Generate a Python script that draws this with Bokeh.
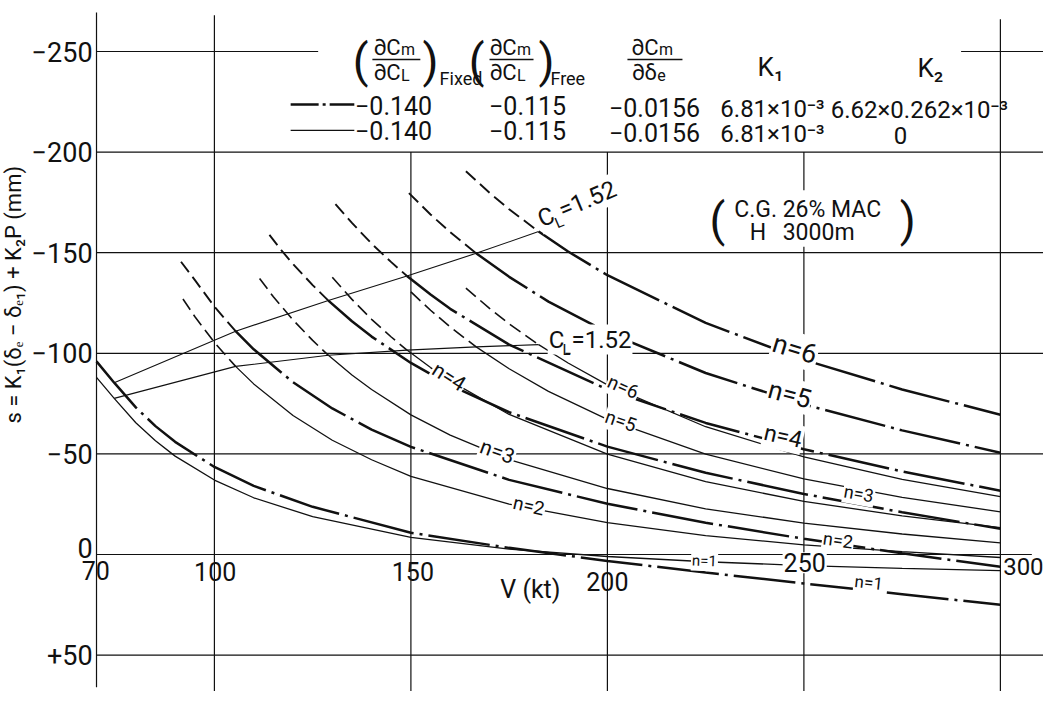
from bokeh.plotting import figure
from bokeh.models import Range1d
from bokeh.core.properties import value
from bokeh.embed import file_html
from bokeh.resources import INLINE

# ------------------------------------------------------------------ data
V_TICKS = [70, 100, 150, 200, 250, 300]
V_TICK_LABELS = ["70", "100", "150", "200", "250", "300"]
S_TICKS = [-250, -200, -150, -100, -50, 0, 50]
S_TICK_LABELS = ["\u2212250", "\u2212200", "\u2212150", "\u2212100", "\u221250", "0", "+50"]

N_LIST = [1, 2, 3, 4, 5, 6]
V_STALL = [74.5, 105.4, 129, 149, 166.6, 182.5]   # C_L = 1.52 points (kt)

# K2 = 0  (thin solid lines)
Z1_V = [70, 74.5, 80, 85, 90, 100, 110, 125, 150, 175, 200, 225, 250, 275, 300]
Z1_S = [-88, -77.6, -65.5, -56.5, -48.9, -37.0, -28.2, -18.8, -8.5, -2.7, 1.0, 3.6, 5.5, 6.9, 8.0]
Z2_V = [92, 95, 100, 105.4, 110, 120, 130, 140, 150, 175, 200, 225, 250, 275, 300]
Z2_S = [-127.0, -118.3, -105.4, -93.5, -84.8, -69.1, -56.8, -47.1, -38.8, -25.0, -15.8, -9.4, -4.8, -1.4, 1.5]
Z3_V = [111.5, 115, 120, 125, 129, 135, 140, 150, 160, 175, 200, 225, 250, 275, 300]
Z3_S = [-137.2, -128.1, -116.6, -106.4, -99.0, -89.2, -82.0, -69.4, -59.3, -47.2, -32.8, -22.7, -15.6, -10.2, -5.8]
Z4_V = [130, 135, 140, 145, 149, 155, 160, 175, 200, 225, 250, 275, 300]
Z4_S = [-137.8, -126.8, -116.9, -108.1, -101.6, -92.9, -86.3, -69.6, -49.9, -36.2, -26.4, -19.2, -13.4]
Z5_V = [150, 155, 160, 166.6, 175, 185, 200, 225, 250, 275, 300]
Z5_S = [-130.5, -121.4, -113.1, -103.2, -92.3, -81.1, -67.2, -49.9, -37.6, -28.4, -21.2]
Z6_V = [164, 170, 175, 182.5, 190, 200, 225, 250, 275, 300]
Z6_S = [-132.4, -122.3, -114.6, -104.3, -95.2, -84.3, -63.5, -48.5, -37.3, -28.8]

# K2 = 6.62x0.262x10^-3  (thick dash-dot lines)
F1_V = [70, 74.5, 80, 85, 90, 100, 110, 125, 150, 175, 200, 225, 250, 275, 300]
F1_S = [-96, -85.4, -73.1, -63.8, -56.0, -43.5, -34.1, -23.7, -10.8, -3.3, 3.2, 9.0, 14.4, 19.7, 25.0]
F2_V = [91.5, 95, 100, 105.4, 110, 120, 130, 140, 150, 175, 200, 225, 250, 275, 300]
F2_S = [-145.5, -136.5, -123.2, -111.0, -102.0, -85.6, -72.6, -62.1, -53.5, -37.1, -25.2, -15.8, -7.8, -0.6, 6.1]
F3_V = [114, 117, 120, 125, 129, 135, 140, 150, 160, 175, 200, 225, 250, 275, 300]
F3_S = [-158.9, -151.3, -144.4, -133.9, -126.2, -115.9, -108.3, -95.2, -84.1, -70.7, -53.6, -40.6, -30.1, -21.0, -12.8]
F4_V = [130.8, 135, 140, 145, 149, 155, 160, 175, 200, 225, 250, 275, 300]
F4_S = [-174.2, -164.8, -154.5, -145.3, -138.4, -129.2, -122.1, -104.3, -82.0, -65.4, -52.3, -41.3, -31.7]
F5_V = [149.5, 155, 160, 166.6, 175, 185, 200, 225, 250, 275, 300]
F5_S = [-179.6, -169.0, -160.2, -149.7, -138.0, -125.7, -110.4, -90.2, -74.6, -61.7, -50.6]
F6_V = [164, 170, 175, 182.5, 190, 200, 225, 250, 275, 300]
F6_S = [-190.5, -179.8, -171.6, -160.5, -150.6, -138.8, -115.1, -96.8, -82.0, -69.5]

TABLE_HEAD = ["Fixed", "Free"]
ROW_FIXED = ["\u22120.140", "\u22120.115", "\u22120.0156", "6.81\u00d710\u207b\u00b3", "6.62\u00d70.262\u00d710\u207b\u00b3"]
ROW_FREE = ["\u22120.140", "\u22120.115", "\u22120.0156", "6.81\u00d710\u207b\u00b3", "0"]

Z_CURVES = [(Z1_V, Z1_S), (Z2_V, Z2_S), (Z3_V, Z3_S), (Z4_V, Z4_S), (Z5_V, Z5_S), (Z6_V, Z6_S)]
F_CURVES = [(F1_V, F1_S), (F2_V, F2_S), (F3_V, F3_S), (F4_V, F4_S), (F5_V, F5_S), (F6_V, F6_S)]

# ------------------------------------------------------------------ figure
FONT = "Roboto"
p = figure(width=1043, height=691,
           x_range=Range1d(45.57, 310.97), y_range=Range1d(68.09, -275.35),
           x_axis_type=None, y_axis_type=None, toolbar_location=None,
           output_backend="svg", min_border=0)
p.outline_line_color = None
p.background_fill_color = "white"
p.border_fill_color = "white"

INK = "#111111"


def txt(x, y, t, size, angle=0, align="center", baseline="middle", bg=False):
    kw = {}
    if bg:
        kw = dict(background_fill_color="white", padding=1)
    p.text(x=[x], y=[y], text=[t], angle=angle, angle_units="deg",
           text_align=align, text_baseline=baseline, text_color=INK,
           text_font=value(FONT), text_font_size=f"{size}px", **kw)


# ---- grid lines
V_EXT = {70: [(-269.4, 66)], 100: [(-268, 70)], 150: [(-200, 70)], 200: [(-200, 70)],
         250: [(-200, -181), (-153, 70)], 300: [(-266, 70)]}
S_EXT = {-250: [(70, 126.4), (290, 312)], -200: [(70, 312)], -150: [(70, 312)],
         -100: [(70, 312)], -50: [(70, 312)], 0: [(70, 308)], 50: [(70, 312)]}
gx0, gy0, gx1, gy1 = [], [], [], []
for v in V_TICKS:
    for a, b in V_EXT[v]:
        gx0.append(v); gx1.append(v); gy0.append(a); gy1.append(b)
for s in S_TICKS:
    for a, b in S_EXT[s]:
        gx0.append(a); gx1.append(b); gy0.append(s); gy1.append(s)
p.segment(x0=gx0, y0=gy0, x1=gx1, y1=gy1, line_color=INK, line_width=1.2)

# ---- curves
for i, n in enumerate(N_LIST):
    vst = V_STALL[i]
    for (vs, ss), kind in ((Z_CURVES[i], "z"), (F_CURVES[i], "f")):
        k = vs.index(vst)
        if n > 1:
            p.line(vs[:k + 1], ss[:k + 1], line_color=INK,
                   line_width=1.9 if kind == "f" else 1.6, line_dash="13 6")
            mv, ms = vs[k:], ss[k:]
        else:
            mv, ms = vs, ss
        if kind == "f":
            p.line(mv, ms, line_color=INK, line_width=2.5, line_dash="62 6 3 6")
        else:
            p.line(mv, ms, line_color=INK, line_width=1.3)

# ---- C_L = 1.52 lines
cl_f = [F_CURVES[i][1][F_CURVES[i][0].index(V_STALL[i])] for i in range(6)]
cl_z = [Z_CURVES[i][1][Z_CURVES[i][0].index(V_STALL[i])] for i in range(6)]
p.line(V_STALL, cl_f, line_color=INK, line_width=1.1)
p.line(V_STALL, cl_z, line_color=INK, line_width=1.1)

# ---- tick labels
X_LAB_POS = [(69.8, 7.9), (100.2, 8.6), (150.5, 8.2), (200, 13.3), (250.2, 4.1)]
for lab, (xv, yv) in zip(V_TICK_LABELS[:5], X_LAB_POS):
    txt(xv, yv, lab, 25, bg=(lab == "250"))
txt(300.7, 6.2, V_TICK_LABELS[5], 24, align="left")
for lab, s in zip(S_TICK_LABELS, S_TICKS):
    txt(69.0, s - 3 if s == 0 else s, lab, 27, align="right")

txt(180.4, 17.6, "V (kt)", 25)
txt(49.0, -133.2, "s = K\u2081(\u03b4\u2091 \u2212 \u03b4\u2091\u2081) + K\u2082P    (mm)", 22, angle=90)

# ---- curve labels (dash-dot set on the right, solid set on the left)
txt(247.7, -102.1, "n=6", 27, angle=-17, bg=True)
txt(246.4, -79.7, "n=5", 26, angle=-15, bg=True)
txt(244.7, -58.7, "n=4", 23, angle=-13, bg=True)
txt(264.0, -30.3, "n=3", 18, angle=-10, bg=True)
txt(258.7, -7.2, "n=2", 18, angle=-8, bg=True)
txt(266.5, 13.9, "n=1", 17, angle=-6, bg=True)
txt(224.7, 3.2, "n=1", 15, angle=-2, bg=True)
txt(204.0, -83.3, "n=6", 19, angle=-24, bg=True)
txt(203.4, -66.4, "n=5", 19, angle=-19, bg=True)
txt(159.7, -88.3, "n=4", 21, angle=-32, bg=True)
txt(172.0, -51.1, "n=3", 21, angle=-20, bg=True)
txt(180.0, -24.2, "n=2", 19, angle=-13, bg=True)

# ---- C_L labels
ux, uy = V_STALL[5] + 1.3, cl_f[5] + 1.4
txt(ux, uy, "C", 24, angle=23, align="left", baseline="bottom", bg=True)
txt(ux + 5.35, uy - 4.47, "=1.52", 24, angle=23, align="left", baseline="bottom", bg=True)
txt(ux + 3.88, uy - 1.08, "L", 15, angle=23, align="left", baseline="bottom")
lx, ly = V_STALL[5] + 2.3, cl_z[5] + 4.9
txt(lx, ly, "C", 24, align="left", baseline="bottom", bg=True)
txt(lx + 5.81, ly, "=1.52", 24, align="left", baseline="bottom", bg=True)
txt(lx + 3.79, ly + 1.99, "L", 15, align="left", baseline="bottom")

# ---- condition box
txt(228.0, -166.5, "(", 46)
txt(276.4, -166.5, ")", 46)
txt(232.3, -171.5, "C.G.", 23, align="left")
txt(244.6, -171.5, "26% MAC", 23, align="left")
txt(236.2, -160.0, "H", 23, align="left")
txt(244.6, -160.0, "3000m", 23, align="left")

# ---- table header
for (cx, lp, rp, sub, subx) in ((146.1, 137.2, 155.0, TABLE_HEAD[0], 157.3),
                                (175.6, 166.7, 184.5, TABLE_HEAD[1], 185.5)):
    txt(lp, -245.5, "(", 46)
    txt(rp, -245.5, ")", 46)
    txt(cx + 1.3, -252.0, "\u2202C", 22, align="right")
    txt(cx + 1.4, -250.8, "m", 16, align="left")
    txt(cx + 1.3, -239.6, "\u2202C", 22, align="right")
    txt(cx + 1.4, -238.3, "L", 16, align="left")
    txt(subx, -236.5, sub, 18, align="left")
txt(213.0, -252.0, "\u2202C", 22, align="right")
txt(213.1, -250.8, "m", 16, align="left")
txt(212.6, -239.6, "\u2202\u03b4", 22, align="right")
txt(212.7, -238.3, "e", 16, align="left")
p.segment(x0=[140.2, 170.0, 205.1], x1=[152.4, 181.2, 219.1],
          y0=[-246.0] * 3, y1=[-246.0] * 3, line_color=INK, line_width=1.4)
txt(241.5, -242.5, "K\u2081", 26)
txt(282.2, -242.0, "K\u2082", 26)

# ---- table rows with legend samples
p.line([119.4, 135.6], [-223.7, -223.7], line_color=INK, line_width=2.5, line_dash="28 4 3 4")
p.line([119.4, 135.6], [-210.8, -210.8], line_color=INK, line_width=1.3)
COL_X = [145.6, 179.7, 212.0, 242.0, 279.4]
ROW1_S = [-223.3, -223.2, -222.2, -221.4, -220.8]
COL_SIZE = [25, 25, 25, 24, 24]
for cx, cs, fs, t in zip(COL_X, ROW1_S, COL_SIZE, ROW_FIXED):
    txt(cx, cs, t, fs)
for cx, cs, fs, t in zip(COL_X, ROW1_S, COL_SIZE, ROW_FREE):
    txt(cx if t != "0" else 274.6, cs + 12.5, t, fs)

open("out.html", "w").write(file_html(p, INLINE))
